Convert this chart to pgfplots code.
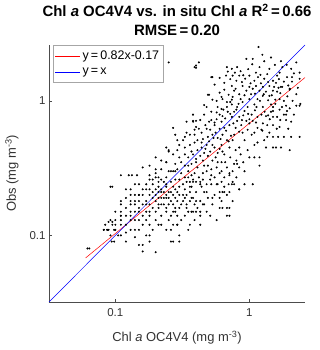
\documentclass[border=0pt]{standalone}
\usepackage{fontspec}
\setmainfont{Liberation Sans}
\usepackage{pgfplots}
\pgfplotsset{compat=1.18}

\begin{document}
\begin{tikzpicture}
\begin{axis}[
  scale only axis, width=256bp, height=257bp,
  xmode=log, ymode=log,
  xmin=0.032, xmax=2.6, ymin=0.032, ymax=2.6,
  axis lines=left, axis line style={-, draw=gray!60!black, line width=0.5pt},
  tick align=inside, major tick length=3bp, tick style={gray!60!black},
  xminorticks=false, yminorticks=false,
  xtick={0.1,1}, xticklabels={0.1,1},
  ytick={0.1,1}, yticklabels={0.1,1},
  /pgf/number format/assume math mode=true,
  tick label style={font=\fontsize{11.5}{13}\selectfont, text=black!80},
  xticklabel style={yshift=-3bp},
  xlabel={Chl \textit{a} OC4V4 (mg m\textsuperscript{-3})},
  ylabel={Obs (mg m\textsuperscript{-3})},
  xlabel style={font=\fontsize{13}{15}\selectfont, text=black!80, at={(axis description cs:0.5,-0.14)}, anchor=center},
  ylabel style={font=\fontsize{13}{15}\selectfont, text=black!80, at={(axis description cs:-0.145,0.5)}, anchor=center},
  title={Chl \textit{a} OC4V4 vs. in situ Chl \textit{a} R\textsuperscript{2}\,=\,0.66\\RMSE\,=\,0.20},
  title style={font=\bfseries\fontsize{15}{19}\selectfont, align=center, at={(axis description cs:0.5,1)}, anchor=south},
  legend style={at={(axis description cs:0.0156,1)}, anchor=north west, draw=gray!70,
    font=\fontsize{12.5}{14}\selectfont,
    cells={anchor=west}, inner xsep=2bp, inner ysep=4bp, row sep=3bp},
  legend image code/.code={\draw[#1] (0bp,0bp) -- (25bp,0bp);},
]
\coordinate (sw) at (rel axis cs:0,0);
\coordinate (ne) at (rel axis cs:1,1);

\addplot[only marks, mark=*, mark size=0.8pt, black, forget plot] coordinates {
 (1.17,2.51) (0.95,2.05) (1.06,2.05) (1.29,1.97) (1.45,2.1) (1.72,1.97) (2.24,1.93) (0.81,1.78)
 (0.74,1.73) (1.19,1.78) (1.41,1.73) (1.76,1.78) (2.05,1.73) (0.75,1.54) (0.84,1.54) (1.0,1.54)
 (1.21,1.56) (1.68,1.62) (1.61,1.54) (1.91,1.5) (0.80,1.41) (0.93,1.46) (1.09,1.41) (1.29,1.46)
 (1.5,1.41) (1.81,1.39) (2.08,1.39) (2.37,1.46) (0.74,1.29) (0.89,1.29) (1.0,1.27) (1.12,1.29)
 (1.26,1.27) (1.41,1.29) (1.53,1.27) (1.72,1.27) (0.77,1.19) (0.95,1.19) (1.06,1.23) (1.19,1.19)
 (1.33,1.17) (1.5,1.19) (1.61,1.17) (2.0,1.23) (2.24,1.12) (0.84,1.12) (1.26,1.09) (1.41,1.09)
 (0.75,1.07) (1.0,1.03) (1.15,1.03) (1.68,1.03) (1.81,1.0) (0.89,0.98) (1.09,0.94) (1.45,0.94)
 (0.74,0.94) (0.81,0.90) (0.97,0.90) (1.26,0.90) (1.88,0.92) (2.24,0.92) (2.4,0.95) (0.77,0.83)
 (0.92,0.84) (1.04,0.79) (1.23,0.79) (1.5,0.84) (1.91,0.84) (2.15,0.79) (0.74,0.76) (0.84,0.76)
 (1.0,0.73) (1.15,0.76) (1.33,0.77) (1.61,0.76) (0.81,0.71) (0.95,0.71) (1.06,0.71)
 (0.25,1.93) (0.39,1.78) (0.40,1.76) (0.42,1.93) (0.68,1.78) (0.69,1.65) (0.52,1.5) (0.60,1.48)
 (0.67,1.54) (0.50,1.11) (0.62,1.07) (0.63,1.03) (0.48,0.90) (0.58,0.90) (0.62,0.87) (0.68,0.90)
 (0.38,0.79) (0.60,0.79) (0.63,0.77) (0.69,0.83) (0.57,0.73) (0.38,0.71) (0.40,0.71) (0.55,1.32)
 (0.65,1.21) (0.53,1.02) (0.70,1.11) (0.52,0.83) (0.71,0.66) (0.65,0.63) (0.55,0.66) (0.46,0.79)
 (0.51,0.61) (0.72,0.98) (0.79,0.63)
 (0.34,0.70) (0.38,0.70) (0.40,0.64) (0.55,0.69) (0.62,0.70) (0.34,0.58) (0.36,0.56) (0.44,0.58)
 (0.49,0.54) (0.53,0.56) (0.58,0.53) (0.63,0.56) (0.68,0.51) (0.29,0.51) (0.39,0.49) (0.44,0.49)
 (0.48,0.47) (0.55,0.45) (0.62,0.47) (0.71,0.45) (0.25,0.43) (0.33,0.45) (0.37,0.42) (0.41,0.43)
 (0.46,0.41) (0.51,0.42) (0.58,0.41) (0.65,0.40) (0.27,0.40) (0.30,0.38) (0.35,0.38) (0.40,0.37)
 (0.45,0.36) (0.53,0.36) (0.62,0.35) (0.24,0.35) (0.28,0.34) (0.33,0.33) (0.37,0.34) (0.41,0.32)
 (0.49,0.33) (0.57,0.32) (0.68,0.32) (0.22,0.31) (0.26,0.30) (0.29,0.31) (0.35,0.30) (0.39,0.29)
 (0.45,0.29) (0.52,0.28) (0.60,0.29) (0.71,0.28) (0.21,0.27) (0.24,0.27) (0.28,0.26) (0.33,0.27)
 (0.38,0.26) (0.43,0.25) (0.51,0.26) (0.62,0.25) (0.21,0.25) (0.24,0.24) (0.27,0.23) (0.32,0.24)
 (0.37,0.23) (0.44,0.23) (0.52,0.24) (0.65,0.23) (0.22,0.21) (0.25,0.21) (0.29,0.21) (0.34,0.20)
 (0.40,0.21) (0.46,0.21) (0.55,0.20) (0.65,0.21) (0.21,0.19) (0.24,0.19) (0.28,0.19) (0.37,0.19)
 (0.49,0.19) (0.60,0.19) (0.34,0.25) (0.36,0.25) (0.38,0.25) (0.40,0.25) (0.25,0.30) (0.27,0.30)
 (0.28,0.30)
 (1.0,0.38) (1.09,0.38) (1.19,0.38) (1.36,0.54) (1.5,0.54) (1.64,0.54) (2.05,0.54) (2.37,0.54)
 (0.77,0.34) (0.81,0.34) (0.84,0.32) (0.71,0.29) (0.74,0.24) (1.81,0.79) (1.88,0.79) (1.45,0.83)
 (1.5,0.66) (1.33,0.45) (1.09,0.58) (1.15,0.49) (1.0,0.68) (1.58,1.36) (1.76,1.27) (2.0,1.21)
 (2.08,1.5) (2.37,1.62) (1.88,0.72) (1.68,0.64) (1.81,0.54) (1.5,0.45) (1.58,0.45) (1.72,0.45)
 (0.75,0.51) (0.84,0.45) (0.89,0.58) (1.41,0.58) (1.26,0.68) (1.5,0.76) (2.37,0.92) (1.5,0.90)
 (0.92,0.24) (1.06,0.24) (0.75,0.25) (0.71,0.21) (0.84,0.22) (0.68,0.16) (0.71,0.16) (0.62,0.18)
 (0.63,0.21) (0.68,0.20) (0.60,0.16) (0.63,0.16) (0.68,0.14) (0.92,0.51) (1.09,0.47) (1.23,0.61)
 (0.84,0.59) (0.79,0.43) (0.97,0.43) (1.19,0.33) (0.92,0.30) (1.04,0.56) (1.29,0.51) (2.0,0.43)
 (1.68,0.86) (1.56,1.02) (1.36,0.66) (1.15,0.63) (0.87,0.66) (0.77,0.56) (0.97,0.61)
 (0.092,0.23) (0.095,0.23) (0.77,0.24) (0.48,0.21) (0.57,0.24) (0.53,0.19) (0.45,0.17) (0.43,0.15)
 (0.40,0.15) (0.36,0.18) (0.34,0.16) (0.32,0.20) (0.30,0.23) (0.36,0.23) (0.43,0.24) (0.48,0.24)
 (0.29,0.18) (0.28,0.15) (0.29,0.12) (0.26,0.14) (0.24,0.16) (0.23,0.19) (0.22,0.14) (0.21,0.17)
 (0.19,0.21) (0.18,0.15) (0.18,0.14) (0.17,0.18) (0.16,0.22) (0.15,0.16) (0.15,0.15) (0.15,0.20)
 (0.14,0.13) (0.14,0.18) (0.13,0.15) (0.13,0.11) (0.13,0.17) (0.12,0.14) (0.12,0.19) (0.11,0.13)
 (0.11,0.15) (0.11,0.10) (0.11,0.14) (0.10,0.11) (0.10,0.13) (0.098,0.11) (0.095,0.12) (0.092,0.13)
 (0.089,0.11) (0.087,0.11) (0.084,0.12) (0.082,0.11) (0.092,0.10) (0.098,0.09) (0.094,0.09) (0.12,0.09)
 (0.15,0.085) (0.16,0.085) (0.18,0.09) (0.26,0.09) (0.27,0.09) (0.30,0.09) (0.16,0.076) (0.20,0.075)
 (0.14,0.097) (0.17,0.10) (0.19,0.11) (0.21,0.12) (0.18,0.10) (0.24,0.11) (0.26,0.11) (0.29,0.12)
 (0.33,0.14) (0.36,0.12) (0.28,0.16) (0.15,0.11)
 (0.15,0.20) (0.17,0.17) (0.18,0.20) (0.20,0.18) (0.22,0.17) (0.24,0.20) (0.26,0.18) (0.21,0.21)
 (0.22,0.22) (0.14,0.17) (0.17,0.22) (0.18,0.22) (0.13,0.20) (0.13,0.18) (0.20,0.15) (0.24,0.15)
 (0.27,0.17) (0.30,0.16) (0.32,0.18) (0.33,0.22) (0.15,0.24) (0.18,0.26) (0.20,0.27) (0.19,0.24)
 (0.22,0.26) (0.14,0.24) (0.12,0.22) (0.11,0.18) (0.11,0.17) (0.10,0.15) (0.11,0.14) (0.39,0.17)
 (0.39,0.13) (0.46,0.17) (0.51,0.14) (0.35,0.11) (0.43,0.12) (0.30,0.10) (0.37,0.15)
 (0.11,0.28) (0.126,0.28) (0.133,0.28) (0.145,0.28) (0.16,0.32) (0.24,0.35) (0.27,0.63) (0.38,0.79)
 (0.40,1.83) (0.49,1.11) (0.53,1.5) (0.20,0.38) (0.22,0.36) (0.25,0.42) (0.24,0.45) (0.32,0.51)
 (0.33,0.54) (0.062,0.08) (0.064,0.08) (0.082,0.11) (0.087,0.11) (0.089,0.126) (0.095,0.126)
 (0.18,0.33) (0.20,0.31) (0.29,0.43) (0.30,0.47) (0.28,0.56) (0.39,0.61) (0.43,0.72) (0.46,0.93)
 (0.43,0.18) (0.48,0.15) (0.53,0.17) (0.60,0.21) (0.57,0.13) (0.71,0.14) (0.75,0.18) (0.84,0.22)
 (0.43,0.14) (0.38,0.15)
 (0.78,1.62) (0.86,1.66) (0.98,1.72) (1.12,1.62) (1.36,1.58) (1.55,1.85) (1.9,1.85) (2.15,1.6)
 (0.72,1.45) (0.88,1.38) (1.02,1.35) (1.16,1.5) (1.38,1.38) (1.66,1.45) (1.95,1.3) (2.3,1.25)
 (0.79,1.23) (0.92,1.1) (1.1,1.13) (1.22,1.35) (1.47,1.1) (1.7,1.14) (1.92,1.08) (2.1,1.0)
 (0.86,1.03) (1.03,1.12) (1.2,1.0) (1.38,1.01) (1.56,0.95) (1.75,0.9) (2.0,0.88) (0.8,0.86)
 (0.9,0.78) (1.1,0.85) (1.3,0.83) (1.42,0.73) (1.7,0.72) (2.05,0.7) (0.76,0.68) (0.88,0.72)
 (1.12,0.69) (1.25,0.6) (1.38,0.78) (1.6,0.62) (1.95,0.62) (0.98,0.8) (1.13,0.9) (0.83,0.95)
 (1.65,1.25) (1.28,1.12) (0.9,1.55) (1.05,1.87) (1.25,2.2) (0.65,1.36) (0.6,1.15) (0.68,0.98)
 (0.57,1.0) (0.74,1.02)
 (0.42,0.62) (0.47,0.66) (0.52,0.72) (0.6,0.62) (0.66,0.74) (0.45,0.52) (0.5,0.5) (0.56,0.58)
 (0.61,0.52) (0.67,0.6) (0.73,0.55) (0.36,0.47) (0.41,0.51) (0.47,0.44) (0.53,0.47) (0.6,0.44)
 (0.7,0.5) (0.33,0.4) (0.38,0.4) (0.43,0.39) (0.49,0.39) (0.56,0.38) (0.63,0.42) (0.72,0.38)
 (0.31,0.35) (0.35,0.33) (0.4,0.35) (0.46,0.33) (0.52,0.31) (0.58,0.35) (0.66,0.35) (0.31,0.29)
 (0.37,0.28) (0.42,0.27) (0.48,0.3) (0.55,0.27) (0.65,0.27) (0.3,0.26) (0.35,0.27) (0.45,0.26)
 (0.58,0.24) (0.7,0.24) (0.75,0.3) (0.8,0.36) (0.86,0.4) (0.9,0.35) (0.8,0.27) (0.62,0.3)
 (0.54,0.53) (0.44,0.45) (0.39,0.56) (0.48,0.62) (0.57,0.82) (0.64,0.86) (0.72,0.8) (0.5,0.7)
 (0.13,0.13) (0.14,0.15) (0.15,0.13) (0.16,0.14) (0.17,0.15) (0.16,0.17) (0.15,0.18) (0.17,0.13)
 (0.18,0.17) (0.19,0.16) (0.19,0.19) (0.2,0.2) (0.2,0.22) (0.21,0.16) (0.22,0.19) (0.23,0.17)
 (0.23,0.21) (0.24,0.23) (0.25,0.19) (0.25,0.17) (0.26,0.21) (0.27,0.2) (0.27,0.15) (0.28,0.22)
 (0.29,0.14) (0.3,0.2) (0.31,0.17) (0.31,0.13) (0.33,0.19) (0.34,0.17) (0.35,0.15) (0.36,0.21)
 (0.38,0.19) (0.4,0.18) (0.41,0.16) (0.12,0.16) (0.12,0.12) (0.13,0.14) (0.11,0.12) (0.1,0.12)
 (0.105,0.1) (0.12,0.105) (0.14,0.11) (0.16,0.12) (0.18,0.12) (0.2,0.13) (0.22,0.12) (0.25,0.13)
 (0.27,0.12) (0.14,0.2) (0.16,0.2) (0.17,0.24) (0.19,0.26) (0.21,0.23) (0.23,0.25) (0.26,0.25)
 (0.18,0.28) (0.13,0.22) (0.2,0.29)
};

\addplot[red, line width=0.5pt] coordinates {(0.06,0.068) (2.6,1.49)};
\addlegendentry{y\,=\,0.82x-0.17}
\addplot[blue, line width=0.5pt] coordinates {(0.032,0.032) (2.6,2.6)};
\addlegendentry{y\,=\,x}
\end{axis}
\pgfresetboundingbox
\path[use as bounding box] ([xshift=-49bp,yshift=-48bp]sw) rectangle ([xshift=15bp,yshift=45bp]ne);
\end{tikzpicture}
\end{document}
